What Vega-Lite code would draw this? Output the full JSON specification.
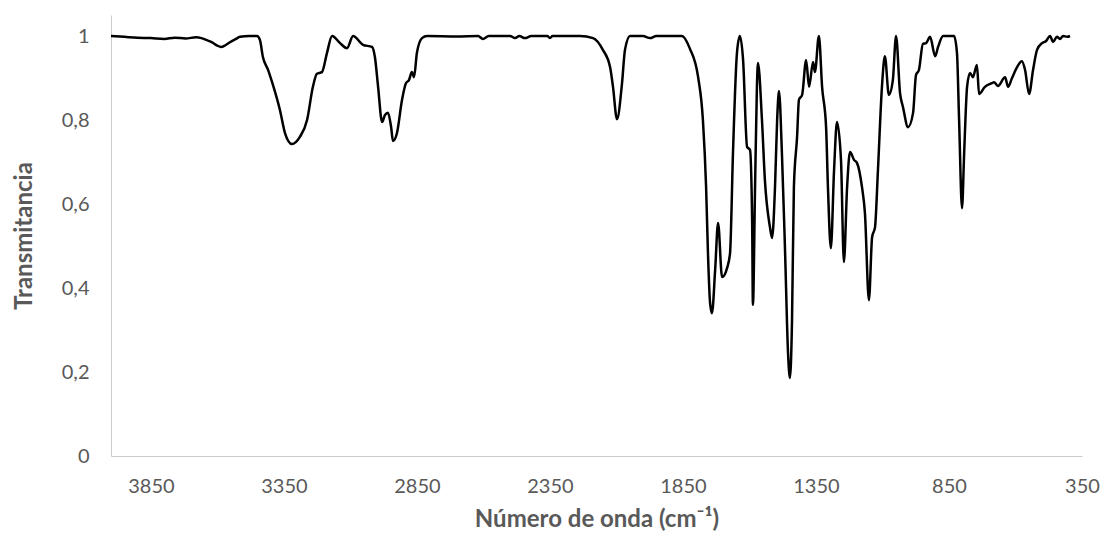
{
  "$schema": "https://vega.github.io/schema/vega-lite/v6.json",
  "width": 971,
  "height": 441,
  "autosize": {"type": "none"},
  "padding": {"left": 111, "top": 15, "right": 22, "bottom": 84},
  "background": "white",
  "config": {"view": {"stroke": null}, "font": "Lato"},
  "data": {"values": [
    {"w": 4000, "t": 1.0}, {"w": 3950, "t": 0.998}, {"w": 3900, "t": 0.996}, {"w": 3850, "t": 0.995},
    {"w": 3800, "t": 0.993}, {"w": 3760, "t": 0.996}, {"w": 3720, "t": 0.994}, {"w": 3680, "t": 0.997},
    {"w": 3660, "t": 0.995}, {"w": 3640, "t": 0.99}, {"w": 3620, "t": 0.985}, {"w": 3600, "t": 0.977},
    {"w": 3587, "t": 0.974}, {"w": 3570, "t": 0.978}, {"w": 3553, "t": 0.985}, {"w": 3530, "t": 0.993},
    {"w": 3515, "t": 0.998}, {"w": 3480, "t": 1.0}, {"w": 3451, "t": 1.0},
    {"w": 3440, "t": 0.99}, {"w": 3429, "t": 0.95}, {"w": 3410, "t": 0.92}, {"w": 3391, "t": 0.883},
    {"w": 3365, "t": 0.824}, {"w": 3346, "t": 0.769}, {"w": 3320, "t": 0.743}, {"w": 3290, "t": 0.76},
    {"w": 3263, "t": 0.8}, {"w": 3241, "t": 0.879}, {"w": 3226, "t": 0.91}, {"w": 3207, "t": 0.914},
    {"w": 3188, "t": 0.96}, {"w": 3169, "t": 1.0}, {"w": 3139, "t": 0.983}, {"w": 3113, "t": 0.971},
    {"w": 3090, "t": 1.0}, {"w": 3053, "t": 0.979}, {"w": 3019, "t": 0.974}, {"w": 3008, "t": 0.95},
    {"w": 2996, "t": 0.879}, {"w": 2981, "t": 0.795}, {"w": 2970, "t": 0.812}, {"w": 2959, "t": 0.817},
    {"w": 2947, "t": 0.783}, {"w": 2940, "t": 0.75}, {"w": 2925, "t": 0.769}, {"w": 2906, "t": 0.848},
    {"w": 2891, "t": 0.888}, {"w": 2880, "t": 0.895}, {"w": 2869, "t": 0.914}, {"w": 2861, "t": 0.902},
    {"w": 2850, "t": 0.96}, {"w": 2831, "t": 0.995}, {"w": 2812, "t": 1.0},
    {"w": 2700, "t": 0.999}, {"w": 2620, "t": 1.0}, {"w": 2602, "t": 0.993}, {"w": 2580, "t": 1.0},
    {"w": 2500, "t": 1.0}, {"w": 2481, "t": 0.995}, {"w": 2465, "t": 1.0}, {"w": 2444, "t": 0.995},
    {"w": 2420, "t": 1.0}, {"w": 2360, "t": 1.0}, {"w": 2350, "t": 0.995}, {"w": 2340, "t": 1.0},
    {"w": 2237, "t": 1.0}, {"w": 2188, "t": 0.995}, {"w": 2151, "t": 0.967}, {"w": 2124, "t": 0.926},
    {"w": 2113, "t": 0.879}, {"w": 2098, "t": 0.802}, {"w": 2079, "t": 0.888}, {"w": 2068, "t": 0.967},
    {"w": 2049, "t": 1.0}, {"w": 2000, "t": 1.0}, {"w": 1974, "t": 0.995}, {"w": 1950, "t": 1.0},
    {"w": 1854, "t": 1.0}, {"w": 1824, "t": 0.97}, {"w": 1793, "t": 0.902}, {"w": 1775, "t": 0.8},
    {"w": 1763, "t": 0.64}, {"w": 1756, "t": 0.483}, {"w": 1748, "t": 0.364}, {"w": 1741, "t": 0.34},
    {"w": 1729, "t": 0.443}, {"w": 1718, "t": 0.555}, {"w": 1703, "t": 0.426}, {"w": 1684, "t": 0.448},
    {"w": 1673, "t": 0.483}, {"w": 1662, "t": 0.721}, {"w": 1647, "t": 0.96}, {"w": 1636, "t": 1.0},
    {"w": 1624, "t": 0.943}, {"w": 1609, "t": 0.736}, {"w": 1598, "t": 0.729}, {"w": 1590, "t": 0.562},
    {"w": 1587, "t": 0.36}, {"w": 1579, "t": 0.64}, {"w": 1572, "t": 0.879}, {"w": 1568, "t": 0.936},
    {"w": 1553, "t": 0.8}, {"w": 1542, "t": 0.657}, {"w": 1523, "t": 0.545}, {"w": 1515, "t": 0.519},
    {"w": 1504, "t": 0.64}, {"w": 1496, "t": 0.8}, {"w": 1489, "t": 0.869}, {"w": 1478, "t": 0.721},
    {"w": 1466, "t": 0.483}, {"w": 1455, "t": 0.245}, {"w": 1448, "t": 0.186}, {"w": 1440, "t": 0.324},
    {"w": 1433, "t": 0.64}, {"w": 1421, "t": 0.76}, {"w": 1414, "t": 0.848}, {"w": 1402, "t": 0.86},
    {"w": 1387, "t": 0.943}, {"w": 1376, "t": 0.879}, {"w": 1361, "t": 0.938}, {"w": 1354, "t": 0.914},
    {"w": 1339, "t": 1.0}, {"w": 1327, "t": 0.879}, {"w": 1312, "t": 0.783}, {"w": 1305, "t": 0.64},
    {"w": 1294, "t": 0.495}, {"w": 1282, "t": 0.681}, {"w": 1271, "t": 0.795}, {"w": 1256, "t": 0.705},
    {"w": 1245, "t": 0.462}, {"w": 1233, "t": 0.64}, {"w": 1222, "t": 0.724}, {"w": 1207, "t": 0.705},
    {"w": 1196, "t": 0.698}, {"w": 1177, "t": 0.64}, {"w": 1166, "t": 0.579}, {"w": 1151, "t": 0.371},
    {"w": 1139, "t": 0.521}, {"w": 1128, "t": 0.545}, {"w": 1117, "t": 0.681}, {"w": 1102, "t": 0.879},
    {"w": 1091, "t": 0.952}, {"w": 1076, "t": 0.86}, {"w": 1061, "t": 0.895}, {"w": 1049, "t": 1.0},
    {"w": 1034, "t": 0.864}, {"w": 1023, "t": 0.831}, {"w": 1004, "t": 0.783}, {"w": 985, "t": 0.817},
    {"w": 974, "t": 0.907}, {"w": 963, "t": 0.919}, {"w": 948, "t": 0.981}, {"w": 936, "t": 0.983},
    {"w": 921, "t": 0.998}, {"w": 902, "t": 0.952}, {"w": 891, "t": 0.974}, {"w": 872, "t": 1.0},
    {"w": 831, "t": 1.0}, {"w": 820, "t": 0.96}, {"w": 812, "t": 0.8}, {"w": 801, "t": 0.59},
    {"w": 793, "t": 0.721}, {"w": 782, "t": 0.879}, {"w": 771, "t": 0.912}, {"w": 760, "t": 0.902},
    {"w": 745, "t": 0.931}, {"w": 737, "t": 0.862}, {"w": 715, "t": 0.879}, {"w": 688, "t": 0.888},
    {"w": 681, "t": 0.89}, {"w": 666, "t": 0.881}, {"w": 639, "t": 0.902}, {"w": 628, "t": 0.879},
    {"w": 613, "t": 0.9}, {"w": 594, "t": 0.926}, {"w": 576, "t": 0.94}, {"w": 564, "t": 0.919},
    {"w": 549, "t": 0.862}, {"w": 534, "t": 0.919}, {"w": 519, "t": 0.967}, {"w": 500, "t": 0.983},
    {"w": 485, "t": 0.988}, {"w": 470, "t": 1.0}, {"w": 459, "t": 0.986}, {"w": 444, "t": 0.998},
    {"w": 433, "t": 0.993}, {"w": 421, "t": 1.0}, {"w": 406, "t": 0.998}, {"w": 395, "t": 1.0}
  ]},
  "mark": {"type": "line", "color": "#000000", "strokeWidth": 2.5, "interpolate": "monotone"},
  "encoding": {
    "x": {
      "field": "w", "type": "quantitative",
      "scale": {"domain": [350, 4000], "reverse": true, "nice": false, "zero": false},
      "axis": {
        "values": [3850, 3350, 2850, 2350, 1850, 1350, 850, 350],
        "format": "d",
        "title": "Número de onda (cm⁻¹)",
        "grid": false, "ticks": false, "tickSize": 0,
        "domainColor": "#CCCCCC", "domainWidth": 1,
        "labelColor": "#595959", "labelFontSize": 20, "labelPadding": 20,
        "labelFlush": false, "labelOverlap": false,
        "titleColor": "#595959", "titleFontSize": 24, "titleFontWeight": "bold", "titlePadding": 11
      }
    },
    "y": {
      "field": "t", "type": "quantitative",
      "scale": {"domain": [0, 1.05], "nice": false},
      "axis": {
        "values": [0, 0.2, 0.4, 0.6, 0.8, 1],
        "labelExpr": "replace(toString(datum.value), '.', ',')",
        "title": "Transmitancia",
        "grid": false, "ticks": false, "tickSize": 0,
        "domainColor": "#CCCCCC", "domainWidth": 1,
        "labelColor": "#595959", "labelFontSize": 20, "labelPadding": 22,
        "titleColor": "#595959", "titleFontSize": 24, "titleFontWeight": "bold", "titlePadding": 25
      }
    }
  }
}
